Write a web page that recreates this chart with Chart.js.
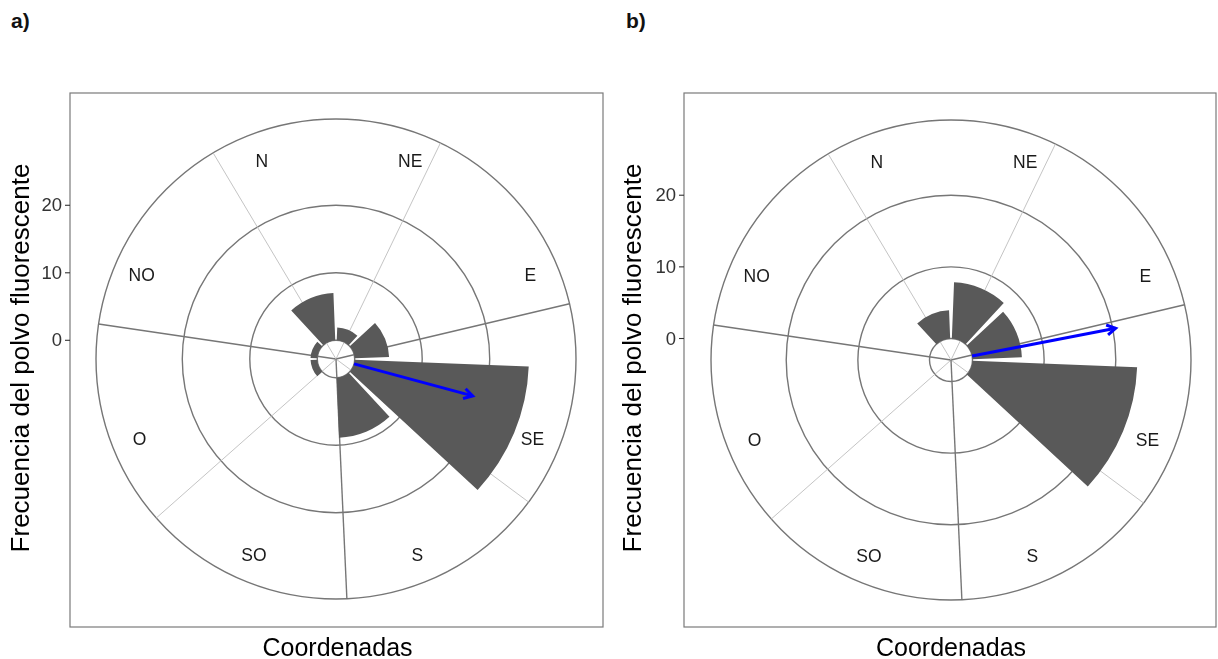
<!DOCTYPE html>
<html><head><meta charset="utf-8">
<script src="https://cdn.jsdelivr.net/npm/chart.js@4.4.1/dist/chart.umd.min.js"></script>
<style>
html,body{margin:0;padding:0;background:#fff;width:1218px;height:659px;overflow:hidden;position:relative;}
canvas{position:absolute;top:0;}
#ca{left:0;} #cb{left:609px;}
.tag{position:absolute;font:bold 21px "Liberation Sans",Arial,sans-serif;color:#111;top:9px;line-height:24px;}
</style></head><body>
<div class="tag" style="left:11px">a)</div>
<div class="tag" style="left:626px">b)</div>
<canvas id="ca" width="609" height="659"></canvas>
<canvas id="cb" width="609" height="659"></canvas>
<script>
// ---- data ----
const categories = ['N', 'NE', 'E', 'SE', 'S', 'SO', 'O', 'NO'];
const freqA = [7.0, 1.9, 5.1, 25.8, 8.9, 0, 1.0, 1.0];
const freqB = [3.95, 7.85, 6.9, 23.0, 0, 0, 0, 0];
const radialTicks = [0, 10, 20];
const arrowAngleA = 105.1;   // degrees clockwise from north
const arrowLengthA = 18.2;
const arrowAngleB = 79.1;
const arrowLengthB = 20.4;
const spokeAngles = [25.8, 76.7, 126.6, 177.4, 228.5, 278.4, 329.2];
const xTitle = 'Coordenadas';
const yTitle = 'Frecuencia del polvo fluorescente';

// ---- layout / style ----
const labelAngles = [339.5, 20.5, 66.5, 112, 157.4, 202.8, 248, 293.5];
const FONT = '"Liberation Sans", Arial, sans-serif';
const RING = '#767676';
const BAR = '#595959';

function polarPt(scale, deg, dist) {
  const a = deg * Math.PI / 180;
  return [scale.xCenter + dist * Math.sin(a), scale.yCenter - dist * Math.cos(a)];
}

function makeChart(id, values, arrowAngle, arrowLength, cfg) {
  const decor = {
    id: 'decor' + id,
    afterDatasetsUpdate(chart) {
      const scale = chart.scales.r;
      const inner = scale.getDistanceFromCenterForValue(0);
      chart.getDatasetMeta(0).data.forEach(el => {
        const w = el.endAngle - el.startAngle;
        el.startAngle += w * 0.05;
        el.endAngle -= w * 0.05;
        el.innerRadius = inner;
        if (el.outerRadius < inner) el.outerRadius = inner;
      });
    },
    beforeDatasetsDraw(chart) {
      const ctx = chart.ctx, scale = chart.scales.r;
      const R = scale.drawingArea;
      ctx.save();
      spokeAngles.forEach((ang, i) => {
        const major = i % 2 === 1;
        const [x, y] = polarPt(scale, ang, R);
        ctx.beginPath();
        ctx.moveTo(scale.xCenter, scale.yCenter);
        ctx.lineTo(x, y);
        ctx.strokeStyle = major ? RING : '#bdbdbd';
        ctx.lineWidth = major ? 1.4 : 0.9;
        ctx.stroke();
      });
      // direction labels
      ctx.fillStyle = '#1a1a1a';
      ctx.font = '17.5px ' + FONT;
      ctx.textAlign = 'center';
      ctx.textBaseline = 'middle';
      categories.forEach((c, i) => {
        const [x, y] = polarPt(scale, labelAngles[i], R * 0.883);
        ctx.fillText(c, x, y + 2);
      });
      ctx.restore();
    },
    afterDatasetsDraw(chart) {
      const ctx = chart.ctx, scale = chart.scales.r;
      const d0 = scale.getDistanceFromCenterForValue(0);
      const d1 = scale.getDistanceFromCenterForValue(arrowLength);
      const [x0, y0] = polarPt(scale, arrowAngle, d0);
      const [x1, y1] = polarPt(scale, arrowAngle, d1);
      ctx.save();
      ctx.strokeStyle = '#0000ff';
      ctx.lineWidth = 3;
      ctx.lineCap = 'butt';
      ctx.beginPath();
      ctx.moveTo(x0, y0); ctx.lineTo(x1, y1); ctx.stroke();
      const th = Math.atan2(y1 - y0, x1 - x0);
      const hl = 10, ha = Math.PI / 6;
      ctx.beginPath();
      ctx.moveTo(x1 - hl * Math.cos(th - ha), y1 - hl * Math.sin(th - ha));
      ctx.lineTo(x1, y1);
      ctx.lineTo(x1 - hl * Math.cos(th + ha), y1 - hl * Math.sin(th + ha));
      ctx.lineJoin = 'miter';
      ctx.stroke();

      // frame
      const f = cfg.frame;
      ctx.strokeStyle = '#7a7a7a';
      ctx.lineWidth = 1.2;
      ctx.strokeRect(f[0], f[1], f[2] - f[0], f[3] - f[1]);
      // y ticks
      ctx.fillStyle = '#333';
      ctx.font = '18.5px ' + FONT;
      ctx.textAlign = 'right';
      ctx.textBaseline = 'middle';
      radialTicks.forEach(v => {
        const y = scale.yCenter - scale.getDistanceFromCenterForValue(v);
        ctx.beginPath();
        ctx.moveTo(f[0] - 5, y); ctx.lineTo(f[0], y);
        ctx.strokeStyle = '#333'; ctx.lineWidth = 1.1; ctx.stroke();
        ctx.fillText(String(v), f[0] - 8, y + 1);
      });
      // titles
      ctx.fillStyle = '#000';
      ctx.font = '25px ' + FONT;
      ctx.textAlign = 'center';
      ctx.textBaseline = 'alphabetic';
      ctx.fillText(xTitle, (f[0] + f[2]) / 2 + 1, 656);
      ctx.save();
      ctx.font = '26px ' + FONT;
      ctx.translate(cfg.yTitleX, (f[1] + f[3]) / 2 - 2);
      ctx.rotate(-Math.PI / 2);
      ctx.textBaseline = 'middle';
      ctx.fillText(yTitle, 0, 0);
      ctx.restore();
      ctx.restore();
    }
  };

  return new Chart(document.getElementById(id), {
    type: 'polarArea',
    data: {
      labels: categories,
      datasets: [{ data: values, backgroundColor: BAR, borderWidth: 0, hoverBackgroundColor: BAR }]
    },
    options: {
      responsive: false,
      animation: false,
      events: [],
      layout: { padding: cfg.padding },
      plugins: { legend: { display: false }, tooltip: { enabled: false } },
      scales: {
        r: {
          min: cfg.min, max: cfg.max,
          startAngle: -45,
          ticks: { display: false },
          pointLabels: { display: false },
          angleLines: { display: false },
          grid: { circular: true, color: RING, lineWidth: 1.4 },
          afterBuildTicks: (s) => {
            s.ticks = radialTicks.map(v => ({ value: v })).concat([{ value: cfg.max }]);
          }
        }
      }
    },
    plugins: [decor]
  });
}

makeChart('ca', freqA, arrowAngleA, arrowLengthA, {
  padding: { left: 96, right: 33, top: 119, bottom: 60 },
  min: -2.77, max: 32.78,
  frame: [70, 93, 603, 627],
  yTitleX: 22
});
makeChart('cb', freqB, arrowAngleB, arrowLengthB, {
  padding: { left: 102, right: 27, top: 120, bottom: 59 },
  min: -3.0, max: 30.5,
  frame: [75, 93, 607, 627],
  yTitleX: 25
});
</script>
</body></html>
